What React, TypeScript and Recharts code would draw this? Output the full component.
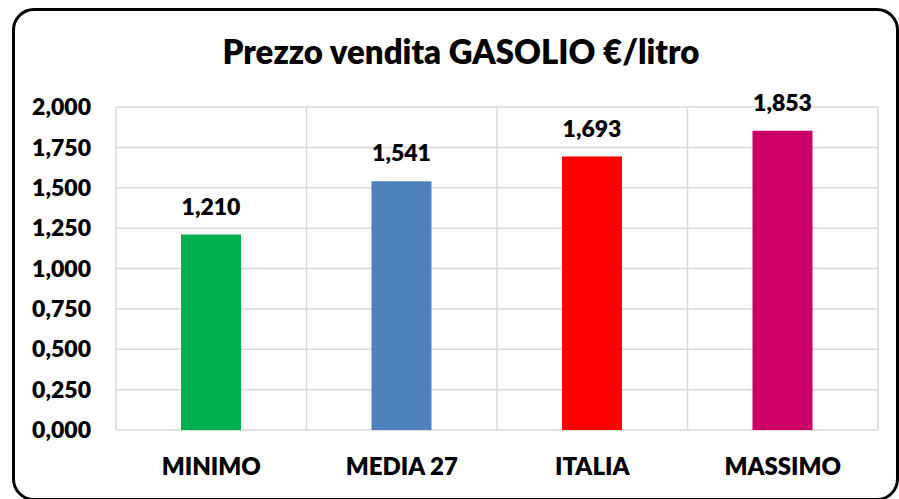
import React from "react";
import { Bar, BarChart, CartesianGrid, Cell, LabelList, XAxis, YAxis } from "recharts";

const categorie = ["MINIMO", "MEDIA 27", "ITALIA", "MASSIMO"];
const prezzi = [1.21, 1.541, 1.693, 1.853];
const colori = ["#00B050", "#4F81BD", "#FF0000", "#CC0066"];
const ticksY = [0, 0.25, 0.5, 0.75, 1, 1.25, 1.5, 1.75, 2];

const FONT = "Lato, 'Open Sans', sans-serif";
const PESO = 800;

const data = categorie.map((nome, i) => ({ nome, prezzo: prezzi[i] }));

const formatta = (v: number) => v.toFixed(3).replace(".", ",");

const App = () => {
    return (
        <div style={{ position: "absolute", left: 0, top: 0, width: 899, height: 499, overflow: "hidden", background: "#fff" }}>
            <div
                style={{
                    position: "absolute",
                    left: 12,
                    top: 8,
                    width: 887,
                    height: 493,
                    boxSizing: "border-box",
                    border: "3px solid #000",
                    borderRadius: 22,
                }}
            />
            <div
                style={{
                    position: "absolute",
                    left: 461,
                    top: 31,
                    transform: "translateX(-50%)",
                    whiteSpace: "nowrap",
                    fontFamily: FONT,
                    fontWeight: PESO,
                    fontSize: 33,
                    color: "#000",
                }}
            >
                Prezzo vendita GASOLIO €/litro
            </div>
            <div style={{ position: "absolute", left: 0, top: 0 }}>
                <BarChart width={899} height={499} data={data} margin={{ top: 107, right: 21, bottom: 0, left: 0 }}>
                    <CartesianGrid
                        stroke="#d9d9d9"
                        strokeWidth={1.5}
                        verticalCoordinatesGenerator={({ offset }: any) =>
                            Array.from({ length: categorie.length + 1 }, (_, i) => offset.left + (offset.width * i) / categorie.length)
                        }
                    />
                    <XAxis
                        dataKey="nome"
                        height={69}
                        axisLine={false}
                        tickLine={false}
                        tickSize={0}
                        tickMargin={28}
                        tick={{ fill: "#000", fontFamily: FONT, fontWeight: PESO, fontSize: 24 }}
                    />
                    <YAxis
                        width={116}
                        domain={[0, 2]}
                        ticks={ticksY}
                        axisLine={false}
                        tickLine={false}
                        tickSize={0}
                        tickMargin={25}
                        tickFormatter={formatta}
                        tick={{ fill: "#000", fontFamily: FONT, fontWeight: PESO, fontSize: 23 }}
                    />
                    <Bar dataKey="prezzo" barSize={60} isAnimationActive={false}>
                        {data.map((d, i) => (
                            <Cell key={d.nome} fill={colori[i]} />
                        ))}
                        <LabelList
                            dataKey="prezzo"
                            position="top"
                            offset={20}
                            formatter={(v: any) => formatta(Number(v))}
                            style={{ fill: "#000", fontFamily: FONT, fontWeight: PESO, fontSize: 23 }}
                        />
                    </Bar>
                </BarChart>
            </div>
        </div>
    );
};

export default App;
